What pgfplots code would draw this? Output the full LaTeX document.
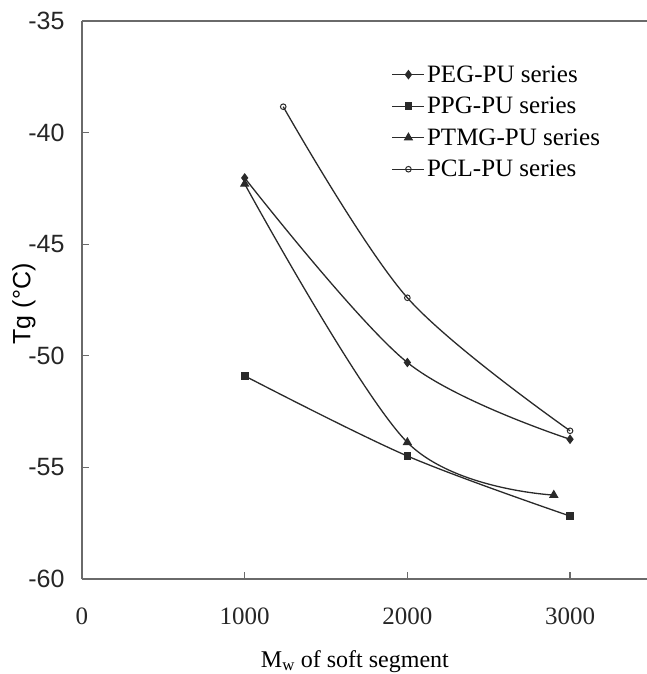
\documentclass[border=0pt]{standalone}
\usepackage{fontspec}
\setmainfont{Liberation Serif}
\newfontfamily\arial{Liberation Sans}
\usepackage{pgfplots}
\pgfplotsset{compat=1.18}
\definecolor{axgray}{HTML}{6A6A6A}
\definecolor{ln}{HTML}{2A2A2A}
\begin{document}
\begin{tikzpicture}
\begin{axis}[
  scale only axis, width=565bp, height=558bp,
  xmin=0, xmax=3473, ymin=-60, ymax=-35,
  axis x line*=bottom, axis y line*=left,
  axis line style={axgray, line width=1.6bp},
  xtick={0,1000,2000,3000}, xticklabels={0,1000,2000,3000},
  ytick={-60,-55,-50,-45,-40,-35}, yticklabels={-60,-55,-50,-45,-40,-35},
  tick align=inside, major tick length=7bp,
  tick style={axgray, line width=1.3bp},
  xticklabel style={font=\fontsize{25bp}{28bp}\selectfont\color{black!85}, yshift=-25bp},
  yticklabel style={font=\arial\fontsize{25bp}{28bp}\selectfont\color{black!85}, xshift=-14bp},
  xlabel={M\textsubscript{w} of soft segment},
  xlabel style={font=\fontsize{24bp}{28bp}\selectfont, at={(rel axis cs:0.483,-0.158)}, anchor=base},
  ylabel={Tg (°C)},
  ylabel style={font=\arial\fontsize{25bp}{28bp}\selectfont, at={(rel axis cs:-0.1027,0.493)}, anchor=center},
  legend style={at={(axis cs:1903,-36.9)}, anchor=north west, draw=none, fill=none, inner sep=0pt,
    font=\fontsize{25bp}{28bp}\selectfont, row sep=9.5bp, cells={anchor=west, inner xsep=8bp, inner ysep=0bp}},
  legend image code/.code={\draw[mark repeat=2,mark phase=2,#1] plot coordinates {(0bp,0bp) (16bp,0bp) (32bp,0bp)};},
  clip=false,
]
\addplot[ln, line width=1.3bp, smooth, tension=0.55, mark=diamond*, mark size=3.8bp, mark options={fill=ln, draw=ln, solid}] coordinates {(1000,-42.03) (2000,-50.3) (3000,-53.74)};
\addlegendentry{PEG-PU series}
\addplot[ln, line width=1.3bp, smooth, tension=0.55, mark=square*, mark size=3.2bp, mark options={fill=ln, draw=ln, solid}] coordinates {(1000,-50.9) (2000,-54.49) (3000,-57.18)};
\addlegendentry{PPG-PU series}
\addplot[ln, line width=1.3bp, smooth, tension=0.55, mark=triangle*, mark size=4.2bp, mark options={fill=ln, draw=ln, solid}] coordinates {(1000,-42.3) (2000,-53.88) (2900,-56.24)};
\addlegendentry{PTMG-PU series}
\addplot[ln, line width=1.3bp, smooth, tension=0.55, mark=o, mark size=2.8bp, mark options={fill=white, draw=ln, solid, line width=1bp}] coordinates {(1237,-38.84) (2000,-47.4) (3000,-53.36)};
\addlegendentry{PCL-PU series}
\coordinate (bl) at (rel axis cs:0,0);
\coordinate (tl) at (rel axis cs:0,1);
\coordinate (tr) at (rel axis cs:1,1);
\end{axis}
\draw[axgray, line width=1.6bp] (tl) -- (tr);
\pgfresetboundingbox
\path ([xshift=-82bp,yshift=-95bp]bl) rectangle ([yshift=21bp]tr);
\end{tikzpicture}
\end{document}
